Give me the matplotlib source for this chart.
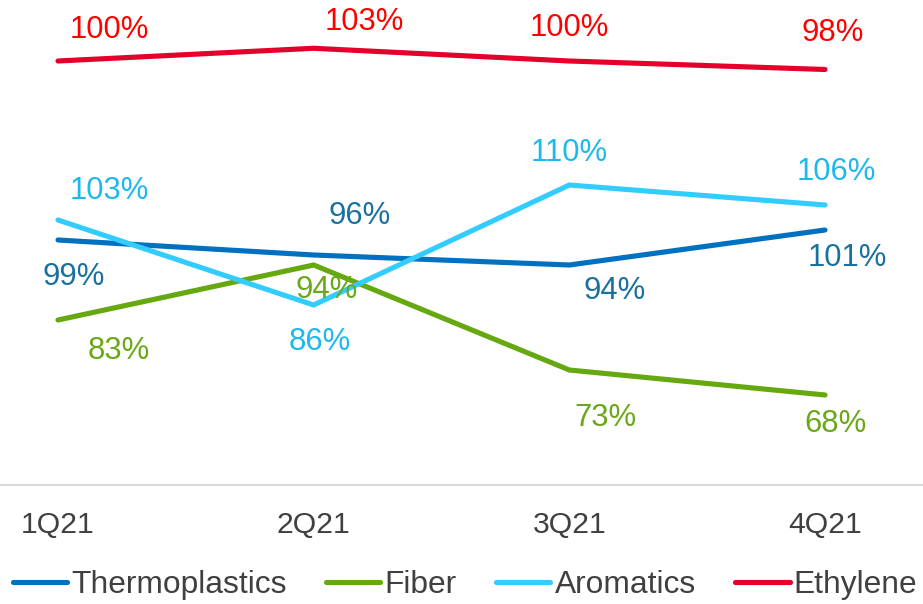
import matplotlib
matplotlib.use("Agg")
import matplotlib.pyplot as plt

# ---- data ----
quarters = ["1Q21", "2Q21", "3Q21", "4Q21"]
thermoplastics = [99, 96, 94, 101]
fiber = [83, 94, 73, 68]
aromatics = [103, 86, 110, 106]
ethylene = [100, 103, 100, 98]

plt.rcParams["font.family"] = ["Liberation Sans", "DejaVu Sans"]

# ---- styles ----
line_colors = {"Thermoplastics": "#0070C0", "Fiber": "#66A80F",
               "Aromatics": "#33CCFF", "Ethylene": "#E4002B"}
label_colors = {"Thermoplastics": "#18719F", "Fiber": "#6AA818",
                "Aromatics": "#1DB8EE", "Ethylene": "#FF0000"}
# label centre offsets in pixels (dx right, dy up) relative to each point
label_offsets = {
    "Thermoplastics": [(16, -34), (46, 42), (45, -23), (22, -25)],
    "Fiber": [(61, -28), (13, -22), (36, -45), (10, -26)],
    "Aromatics": [(51, 32), (6, -34), (0, 35), (11, 36)],
    "Ethylene": [(51, 34), (51, 29), (0, 36), (8, 39)],
}
FS = 22.3
CAP_HALF = 11  # half the digit height in pixels

W, H = 923, 604
fig = plt.figure(figsize=(W / 100, H / 100), dpi=100)
bottom_px = 485
ax = fig.add_axes([0, (H - bottom_px) / H, 1, bottom_px / H])
ax2 = ax.twinx()

x = list(range(len(quarters)))
px_per_unit = (825 - 58) / 3
ax.set_xlim(-58 / px_per_unit, 3 + (W - 825) / px_per_unit)
ax.set_ylim(50, 50 + bottom_px / 5.0)
ax2.set_ylim(0, bottom_px / 4.24)

series = [("Thermoplastics", thermoplastics, ax),
          ("Fiber", fiber, ax),
          ("Aromatics", aromatics, ax),
          ("Ethylene", ethylene, ax2)]

handles = []
for name, vals, a in series:
    ln, = a.plot(x, vals, color=line_colors[name], lw=3.7,
                 solid_capstyle="round", solid_joinstyle="miter", label=name)
    handles.append(ln)

for name, vals, a in series:
    for i, v in enumerate(vals):
        dx, dy = label_offsets[name][i]
        a.annotate(f"{v}%", (x[i], v), xytext=(dx, dy - CAP_HALF),
                   textcoords="offset pixels", ha="center", va="baseline",
                   fontsize=FS, color=label_colors[name], zorder=5)

for a in (ax, ax2):
    for s in ("top", "left", "right", "bottom"):
        a.spines[s].set_visible(False)
    a.set_yticks([])
ax.spines["bottom"].set_visible(True)
ax.spines["bottom"].set_color("#D9D9D9")
ax.spines["bottom"].set_linewidth(1.5)
ax.set_xticks(x)
ax.set_xticklabels(quarters)
ax.tick_params(axis="x", length=0, pad=19, labelsize=21.7, labelcolor="#404040")
ax2.tick_params(axis="x", length=0)

leg = fig.legend(handles=handles, loc="center", bbox_to_anchor=(465 / W, 19 / H),
                 ncol=4, frameon=False, fontsize=22.9, handlelength=1.7,
                 handletextpad=0.13, columnspacing=1.25, borderpad=0,
                 borderaxespad=0)
for t in leg.get_texts():
    t.set_color("#404040")

fig.savefig("out.png", dpi=100)
